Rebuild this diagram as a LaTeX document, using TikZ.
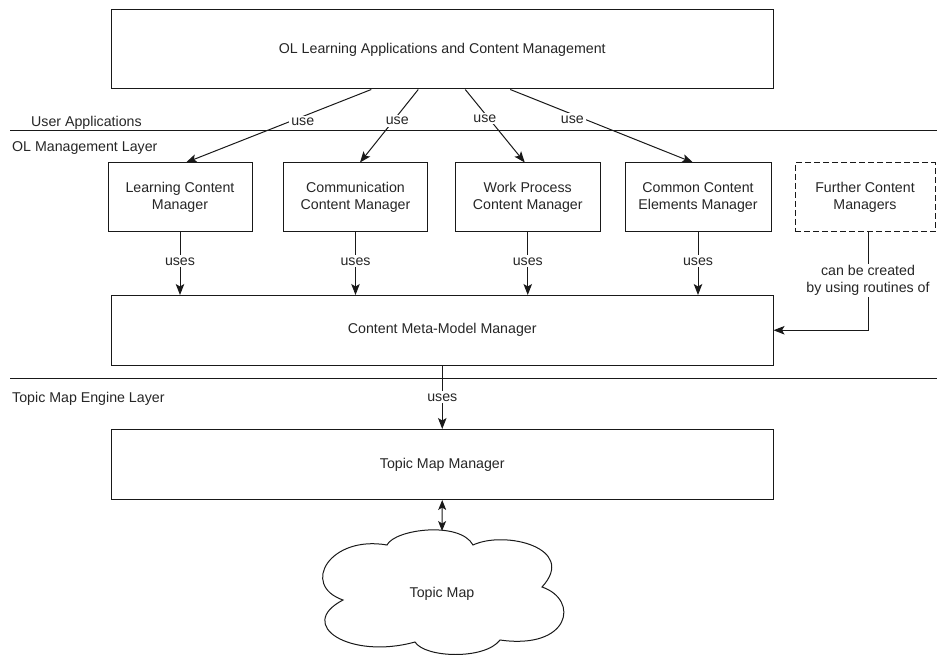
\documentclass[tikz,border=0pt]{standalone}
\usepackage{fontspec}
\setmainfont{Liberation Sans}
\usetikzlibrary{arrows.meta}
\begin{document}
\begin{tikzpicture}[x=1pt,y=-1pt,
  every node/.style={font=\fontsize{14.2}{16.5}\selectfont, text=black!85},
  box/.style={draw=black!90, line width=1pt, fill=white, inner sep=0pt,
    align=center, minimum height=69pt},
  widebox/.style={box, minimum width=661.5pt},
  mgrbox/.style={box, minimum width=144pt},
  futurebox/.style={box, dashed, dash pattern=on 6pt off 3pt, minimum width=140pt},
  conn/.style={draw=black!90, line width=1pt,
    -{Stealth[length=11pt,width=8.5pt,inset=2.5pt]}},
  biconn/.style={draw=black!90, line width=1pt,
    {Stealth[length=10pt,width=8pt,inset=2.5pt]}-{Stealth[length=10pt,width=8pt,inset=2.5pt]}},
  lbl/.style={fill=white, inner sep=2pt, align=center},
  layerline/.style={draw=black!90, line width=1pt},
  layer/.style={anchor=west, inner sep=0pt}
]
\useasboundingbox (0,0) rectangle (937,655);

% layer separators and captions
\coordinate (l1a) at (10,130.5);  \coordinate (l1b) at (937,130.5);
\coordinate (l2a) at (10,378.5);  \coordinate (l2b) at (937,378.5);
\draw[layerline] (l1a) -- (l1b);
\draw[layerline] (l2a) -- (l2b);
\node[layer] (ua)  at (31,123)  {User Applications};
\node[layer] (olm) at (12,148)  {OL Management Layer};
\node[layer] (tme) at (12,399)  {Topic Map Engine Layer};

% boxes
\node[widebox, minimum height=79pt] (top) at (442.25,49.5) {OL Learning Applications and Content Management};
\node[mgrbox] (b1) at (180,197.5)    {Learning Content\\Manager};
\node[mgrbox] (b2) at (355.5,197.5)  {Communication\\Content Manager};
\node[mgrbox, minimum width=145.5pt] (b3) at (527.75,197.5) {Work Process\\Content Manager};
\node[mgrbox, minimum width=146pt]   (b4) at (698,197.5)    {Common Content\\Elements Manager};
\node[futurebox] (fcm) at (865,197.5) {Further Content\\Managers};
\node[widebox, minimum height=69.5pt] (meta) at (442.25,330.25) {Content Meta-Model Manager};
\node[widebox, minimum height=70pt]   (tmm)  at (442.25,464.5)  {Topic Map Manager};

% topic map cloud
\draw[draw=black!90, line width=1pt, fill=white]
  (387,545) .. controls (395,529) and (460,521) .. (473,545)
            .. controls (505,530) and (578,548) .. (542,587)
            .. controls (580,600) and (570,650) .. (500,640)
            .. controls (485,660) and (425,658) .. (415,642)
            .. controls (350,660) and (295,625) .. (343,600)
            .. controls (300,585) and (330,535) .. (387,545) -- cycle;
\node (tm) at (442,594) {Topic Map};
\coordinate (cloudtop) at (442,531);

% application layer uses the managers
\draw[conn] ([xshift=-71pt]top.south) -- node[lbl, pos=0.37, yshift=-5pt] {use} ([xshift=6pt]b1.north);
\draw[conn] ([xshift=-24pt]top.south) -- node[lbl, pos=0.36, yshift=-5pt] {use} ([xshift=4.5pt]b2.north);
\draw[conn] ([xshift=23pt]top.south)  -- node[lbl, pos=0.33, yshift=-5pt] {use} ([xshift=-3pt]b3.north);
\draw[conn] ([xshift=68pt]top.south)  -- node[lbl, pos=0.34, yshift=-5pt] {use} ([xshift=-5pt]b4.north);

% managers use the meta-model manager
\draw[conn] (b1.south) -- node[lbl, pos=0.46] {uses} (b1.south |- meta.north);
\draw[conn] (b2.south) -- node[lbl, pos=0.46] {uses} (b2.south |- meta.north);
\draw[conn] (b3.south) -- node[lbl, pos=0.46] {uses} (b3.south |- meta.north);
\draw[conn] (b4.south) -- node[lbl, pos=0.46] {uses} (b4.south |- meta.north);
\draw[conn] ([xshift=3pt]fcm.south) |- node[lbl, pos=0.245] {can be created\\by using routines of} (meta.east);

% engine layer
\draw[conn] (meta.south) -- node[lbl, pos=0.5] {uses} (tmm.north);
\draw[biconn] (tmm.south) -- (cloudtop);
\end{tikzpicture}
\end{document}
